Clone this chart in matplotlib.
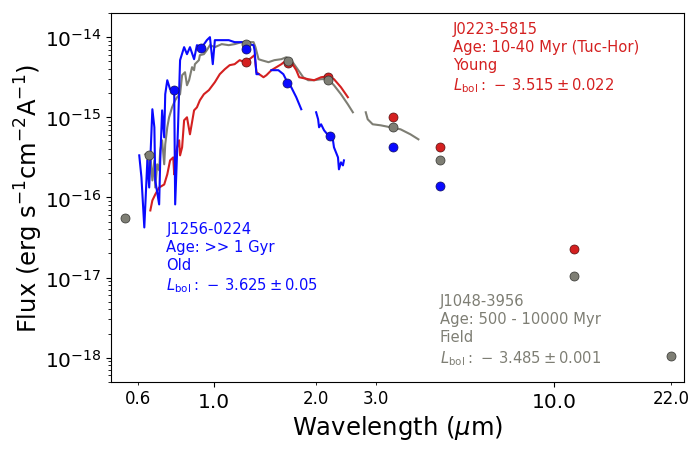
import numpy as np
import matplotlib
matplotlib.use('Agg')
import matplotlib.pyplot as plt
from matplotlib.ticker import FixedLocator, FixedFormatter, NullFormatter, LogFormatterSciNotation

# ---- spectra (wavelength in micron, flux in erg/s/cm2/A) ----
blue_w1 = [0.604, 0.613, 0.625, 0.638, 0.646, 0.660, 0.669, 0.673, 0.691, 0.696,
           0.705, 0.715, 0.720, 0.730, 0.744, 0.765, 0.770, 0.785, 0.796, 0.818,
           0.834, 0.851, 0.875, 0.892, 0.923, 0.954, 0.974, 0.993, 1.007, 1.055,
           1.106, 1.151, 1.207, 1.265, 1.308, 1.317, 1.334, 1.353]
blue_f1 = [3.35e-16, 1.78e-16, 4.22e-17, 2.90e-16, 1.33e-16, 1.26e-15, 7.50e-16, 1.63e-16, 8.18e-17, 2.90e-16,
           1.22e-15, 5.62e-16, 1.94e-15, 2.90e-15, 2.24e-15, 2.18e-15, 8.18e-17, 7.50e-16, 5.16e-15, 7.50e-15,
           6.13e-15, 7.50e-15, 5.31e-15, 7.94e-15, 7.50e-15, 9.17e-15, 1.00e-14, 4.60e-15, 9.17e-15, 9.17e-15,
           9.17e-15, 8.66e-15, 8.66e-15, 8.18e-15, 7.94e-15, 6.88e-15, 3.45e-15, 3.45e-15]
blue_w2 = [1.476, 1.547, 1.600, 1.644, 1.688, 1.746, 1.806]
blue_f2 = [3.87e-15, 3.87e-15, 3.45e-15, 2.74e-15, 2.37e-15, 1.78e-15, 1.26e-15]
blue_w3 = [1.997, 2.024, 2.037, 2.065, 2.107, 2.179, 2.238, 2.253, 2.315, 2.330, 2.362, 2.394, 2.410]
blue_f3 = [1.155e-15, 9.44e-16, 7.50e-16, 8.18e-16, 6.88e-16, 5.79e-16, 5.16e-16, 4.22e-16,
           3.16e-16, 2.24e-16, 2.74e-16, 2.51e-16, 2.90e-16]

gray_w1 = [0.629, 0.638, 0.646, 0.651, 0.660, 0.669, 0.673, 0.682, 0.691, 0.696,
           0.705, 0.715, 0.720, 0.730, 0.739, 0.754, 0.770, 0.780, 0.796, 0.807,
           0.823, 0.834, 0.846, 0.863, 0.875, 0.880, 0.904, 0.910, 0.935, 0.954,
           0.974, 1.007, 1.055, 1.106, 1.151, 1.207, 1.265, 1.308, 1.325, 1.353,
           1.380, 1.447, 1.506, 1.579, 1.633, 1.688, 1.770, 1.830, 1.892, 1.970,
           2.065, 2.164, 2.253, 2.362, 2.475, 2.560]
gray_f1 = [3.45e-16, 3.16e-16, 1.94e-16, 3.45e-16, 1.63e-16, 2.90e-16, 1.33e-16, 2.59e-16, 2.18e-16, 3.87e-16,
           5.16e-16, 2.59e-16, 4.60e-16, 7.50e-16, 1.00e-15, 1.33e-15, 1.63e-15, 1.78e-15, 1.94e-15, 3.35e-15,
           3.65e-15, 2.51e-15, 2.90e-15, 4.22e-15, 3.87e-15, 4.60e-15, 5.16e-15, 5.96e-15, 6.13e-15, 6.88e-15,
           7.94e-15, 7.50e-15, 8.18e-15, 7.94e-15, 8.18e-15, 8.66e-15, 8.66e-15, 8.66e-15, 7.50e-15, 5.31e-15,
           5.16e-15, 4.87e-15, 5.16e-15, 5.31e-15, 5.62e-15, 5.16e-15, 3.87e-15, 3.16e-15, 2.90e-15, 2.90e-15,
           2.99e-15, 2.99e-15, 2.51e-15, 1.94e-15, 1.45e-15, 1.155e-15]
gray_w2 = [2.793, 2.830, 2.927, 3.089, 3.304, 3.533, 3.778, 3.987]
gray_f2 = [1.155e-15, 9.44e-16, 8.18e-16, 7.94e-16, 7.50e-16, 7.08e-16, 6.13e-16, 5.31e-16]

red_w = [0.651, 0.660, 0.673, 0.691, 0.715, 0.730, 0.744, 0.760, 0.765, 0.770,
         0.791, 0.796, 0.807, 0.818, 0.834, 0.851, 0.875, 0.892, 0.910, 0.935,
         0.967, 1.007, 1.041, 1.077, 1.113, 1.151, 1.191, 1.231, 1.273, 1.317,
         1.334, 1.399, 1.427, 1.476, 1.579, 1.633, 1.688, 1.746, 1.781, 1.892,
         1.970, 2.065, 2.164, 2.253, 2.362, 2.475]
red_f = [6.88e-17, 9.17e-17, 1.09e-16, 1.33e-16, 1.45e-16, 1.94e-16, 2.90e-16, 3.16e-16, 1.94e-16, 3.45e-16,
         5.16e-16, 3.35e-16, 4.22e-16, 9.17e-16, 1.00e-15, 6.13e-16, 1.22e-15, 1.33e-15, 1.63e-15, 1.94e-15,
         2.18e-15, 2.74e-15, 3.45e-15, 3.98e-15, 4.47e-15, 4.60e-15, 5.16e-15, 4.87e-15, 5.31e-15, 5.96e-15,
         3.65e-15, 3.16e-15, 3.35e-15, 3.87e-15, 4.60e-15, 5.16e-15, 4.87e-15, 3.87e-15, 3.16e-15, 2.99e-15,
         2.90e-15, 3.16e-15, 3.26e-15, 2.99e-15, 2.37e-15, 1.78e-15]

# ---- photometry ----
blue_pw = [0.765, 0.916, 1.24, 1.64, 2.19, 3.35, 4.6]
blue_pf = [2.2e-15, 7.3e-15, 7.1e-15, 2.7e-15, 5.8e-16, 4.2e-16, 1.37e-16]
gray_pw = [0.547, 0.646, 1.24, 1.65, 2.16, 3.35, 4.6, 11.4, 22.0]
gray_pf = [5.5e-17, 3.35e-16, 8.2e-15, 5.0e-15, 2.9e-15, 7.5e-16, 2.9e-16, 1.06e-17, 1.06e-18]
red_pw = [1.24, 1.65, 2.16, 3.35, 4.6, 11.4]
red_pf = [4.9e-15, 4.8e-15, 3.16e-15, 1.0e-15, 4.2e-16, 2.3e-17]

y_major = [1e-18, 1e-17, 1e-16, 1e-15, 1e-14]

BLUE = '#0a0aff'
GRAY = '#7e7e74'
RED = '#d42020'

fig = plt.figure(figsize=(7, 4.52), dpi=100)
ax = fig.add_axes([0.159, 0.153, 0.818, 0.816])

ax.plot(gray_w1, gray_f1, color=GRAY, lw=1.5)
ax.plot(gray_w2, gray_f2, color=GRAY, lw=1.5)
ax.plot(red_w, red_f, color=RED, lw=1.5)
ax.plot(blue_w1, blue_f1, color=BLUE, lw=1.5)
ax.plot(blue_w2, blue_f2, color=BLUE, lw=1.5)
ax.plot(blue_w3, blue_f3, color=BLUE, lw=1.5)

ax.plot(red_pw, red_pf, 'o', color=RED, ms=6.5, mec='#551010', mew=0.5)
ax.plot(gray_pw, gray_pf, 'o', color=GRAY, ms=6.5, mec='#333330', mew=0.5)
ax.plot(blue_pw, blue_pf, 'o', color=BLUE, ms=6.5, mec='#101060', mew=0.5)

ax.set_xscale('log')
ax.set_yscale('log')
ax.set_xlim(0.5, 24)
ax.set_ylim(5e-19, 2e-14)

ax.xaxis.set_major_locator(FixedLocator([1.0, 10.0]))
ax.xaxis.set_major_formatter(FixedFormatter(['1.0', '10.0']))
ax.xaxis.set_minor_locator(FixedLocator([0.6, 2.0, 3.0, 22.0]))
ax.xaxis.set_minor_formatter(FixedFormatter(['0.6', '2.0', '3.0', '22.0']))
ax.yaxis.set_major_locator(FixedLocator(y_major))
ax.yaxis.set_major_formatter(LogFormatterSciNotation())
ax.yaxis.set_minor_formatter(NullFormatter())
ax.tick_params(axis='x', which='major', labelsize=14.5)
ax.tick_params(axis='x', which='minor', labelsize=12)
ax.tick_params(axis='y', which='major', labelsize=14.5)

ax.set_xlabel(r'Wavelength ($\mu$m)', fontsize=17.5, labelpad=2)
ax.set_ylabel(r'Flux (erg s$^{-1}$cm$^{-2}$A$^{-1}$)', fontsize=17.5, labelpad=0)

ax.text(0.597, 0.978, 'J0223-5815\nAge: 10-40 Myr (Tuc-Hor)\nYoung\n'
        r'$L_{\rm bol}:\,-\,3.515 \pm 0.022$', color=RED, fontsize=10.6,
        transform=ax.transAxes, va='top', ha='left', linespacing=1.25)
ax.text(0.096, 0.436, 'J1256-0224\nAge: >> 1 Gyr\nOld\n'
        r'$L_{\rm bol}:\,-\,3.625 \pm 0.05$', color=BLUE, fontsize=10.6,
        transform=ax.transAxes, va='top', ha='left', linespacing=1.25)
ax.text(0.574, 0.24, 'J1048-3956\nAge: 500 - 10000 Myr\nField\n'
        r'$L_{\rm bol}:\,-\,3.485 \pm 0.001$', color=GRAY, fontsize=10.6,
        transform=ax.transAxes, va='top', ha='left', linespacing=1.25)

fig.savefig('out.png', dpi=100)
